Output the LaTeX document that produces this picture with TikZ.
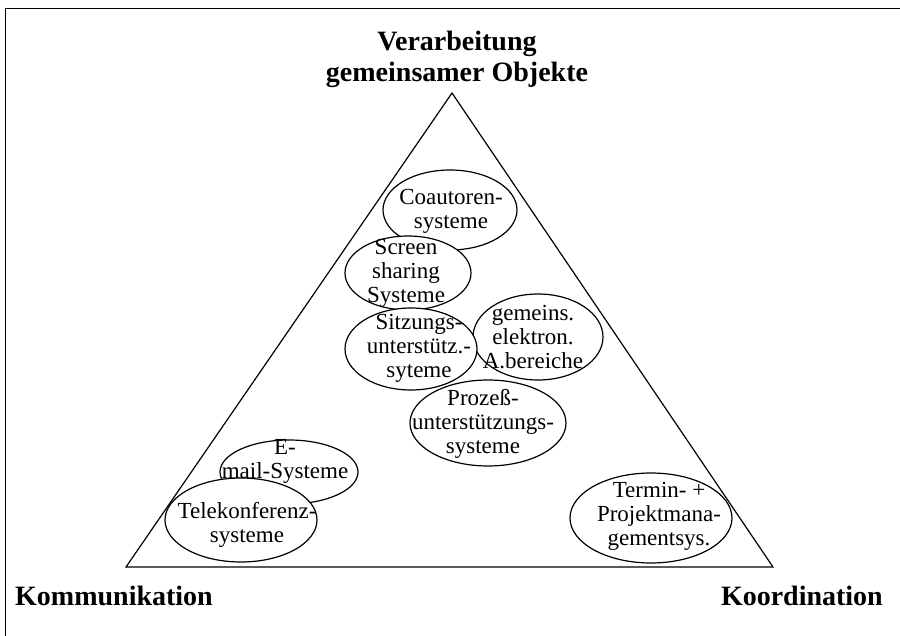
\documentclass[tikz,border=0pt]{standalone}
\usepackage{fontspec}
\setmainfont{Liberation Serif}
\usetikzlibrary{shapes.geometric}

\begin{document}
\begin{tikzpicture}[x=1pt, y=-1pt,
    system/.style ={ellipse, draw, fill=white, line width=1.2pt, inner sep=0pt},
    systext/.style ={align=center, inner sep=0pt, font=\fontsize{23}{24}\selectfont},
    ecke/.style ={inner sep=0pt, font=\fontsize{28}{30}\selectfont\bfseries}]
   \useasboundingbox (0,0) rectangle (900,636);
   \draw[line width=1pt] (900,9) -- (5,9) -- (5,636);

   \node[ecke, align=center, font=\fontsize{28}{31}\selectfont\bfseries] (titel) at (457,59) {Verarbeitung\\gemeinsamer Objekte};
   \node[ecke, anchor=base west] (komm) at (15,605) {Kommunikation};
   \node[ecke, anchor=base east] (koord) at (883,605) {Koordination};

   \node[system, minimum width=134pt, minimum height=80pt] (coaut) at (450,210) {};
   \node[system, minimum width=126pt, minimum height=74pt] (screen) at (408,273) {};
   \node[system, minimum width=130pt, minimum height=86pt] (gemeins) at (538,337) {};
   \node[system, minimum width=132pt, minimum height=82pt] (sitzung) at (411,349) {};
   \node[system, minimum width=156pt, minimum height=86pt] (prozess) at (488,423) {};
   \node[system, minimum width=138pt, minimum height=64pt] (email) at (289,472) {};
   \node[system, minimum width=152pt, minimum height=84pt] (telekonf) at (241,520) {};
   \node[system, minimum width=162pt, minimum height=90pt] (termin) at (651,518) {};

   \node[systext] (coauttext) at (451,211) {Coautoren-\\systeme};
   \node[systext] (screentext) at (406,273) {Screen\\sharing\\Systeme};
   \node[systext] (gemeinstext) at (533,337) {gemeins.\\elektron.\\A.bereiche};
   \node[systext] (sitzungtext) at (419,348) {Sitzungs-\\unterstütz.-\\syteme};
   \node[systext] (prozesstext) at (483,424) {Prozeß-\\unterstützungs-\\systeme};
   \node[systext] (emailtext) at (285,461) {E-\\mail-Systeme};
   \node[systext] (telekonftext) at (247,525) {Telekonferenz-\\systeme};
   \node[systext] (termintext) at (659,516) {Termin- +\\Projektmana-\\gementsys.};

   \coordinate (spitze) at (452,93);
   \coordinate (links) at (126,567);
   \coordinate (rechts) at (773,567);
   \draw[line width=1.2pt] (spitze) -- (links) -- (rechts) -- cycle;
 \end{tikzpicture}
\end{document}
